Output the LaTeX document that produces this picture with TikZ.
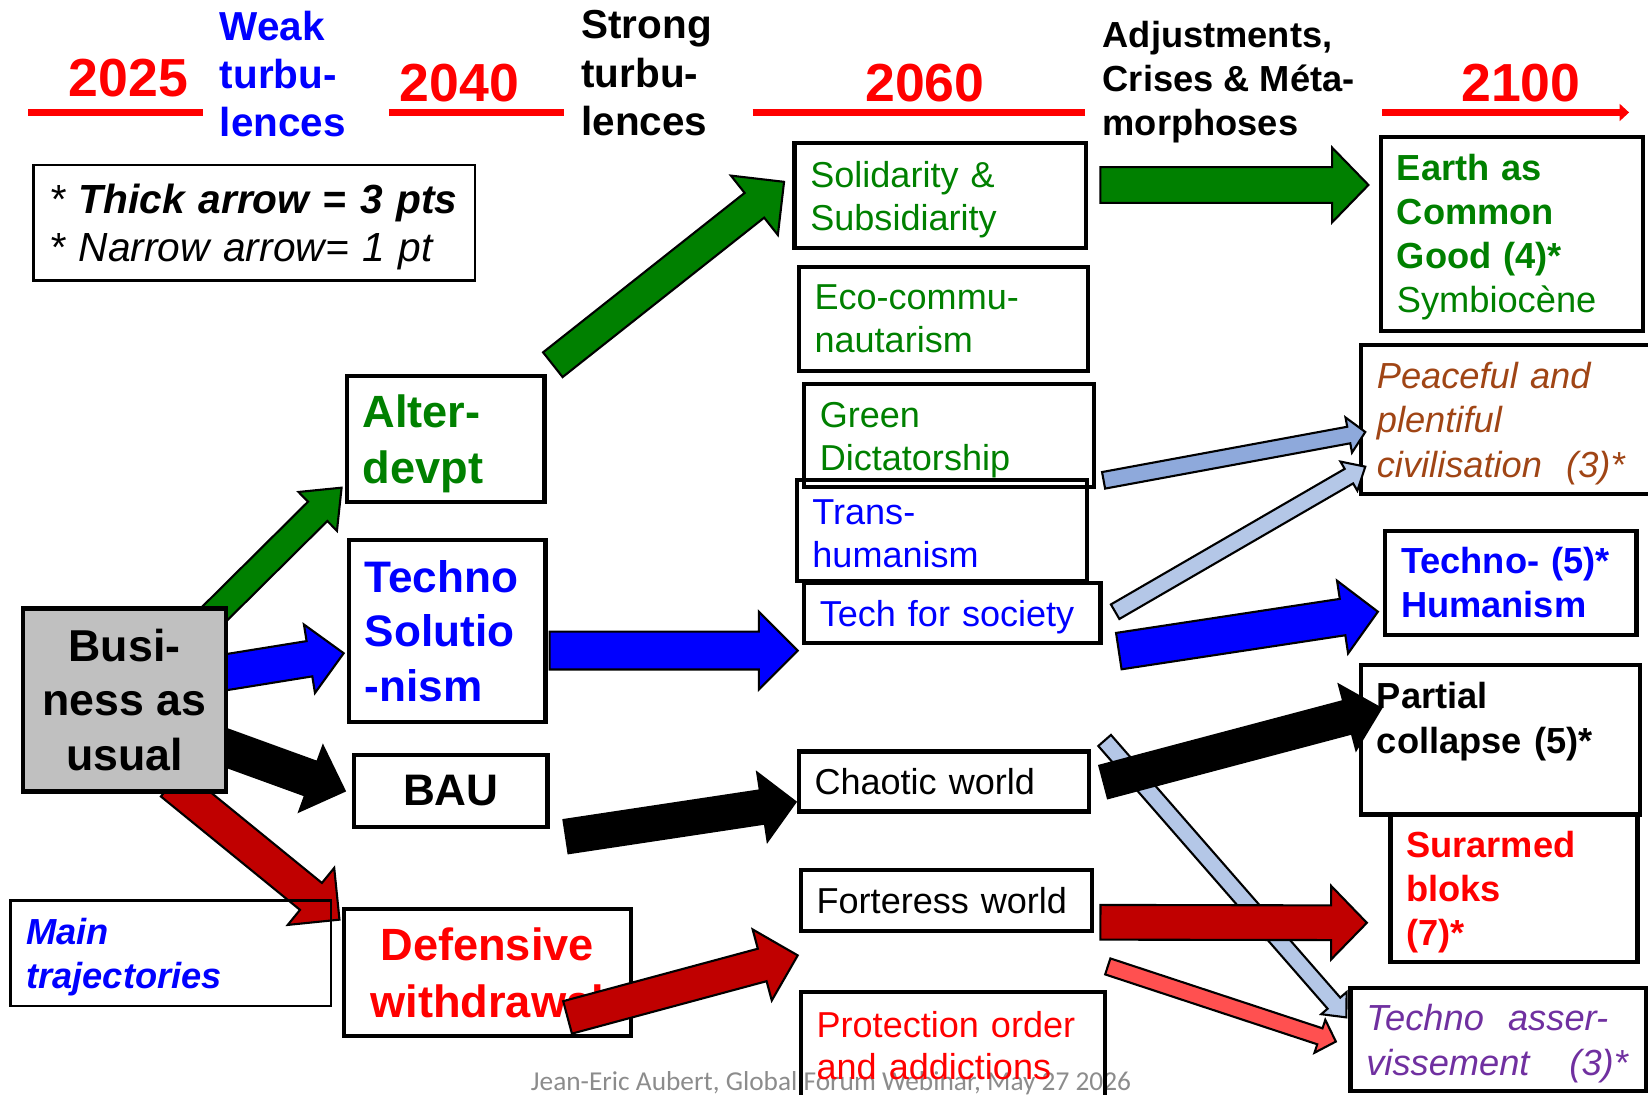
\documentclass[tikz,border=0pt]{standalone}
\usepackage{fontspec}
\setmainfont{Liberation Sans}
\newfontfamily\footfont{Carlito}
\usetikzlibrary{calc,backgrounds,arrows.meta}
\setlength{\parindent}{0pt}

\definecolor{tred}{HTML}{FF0000}
\definecolor{tblue}{HTML}{0000FF}
\definecolor{tgreen}{HTML}{008000}
\definecolor{dred}{HTML}{C00000}
\definecolor{lred}{HTML}{FF5050}
\definecolor{mblue}{HTML}{8EA9DB}
\definecolor{pblue}{HTML}{B4C7E7}
\definecolor{brn}{HTML}{A04515}
\definecolor{purp}{HTML}{7030A0}
\definecolor{bgray}{HTML}{C0C0C0}
\definecolor{ftgray}{HTML}{8C8C8C}

\newcommand{\fyear}{\fontsize{51}{60}\selectfont\bfseries}
\newcommand{\fhead}{\fontsize{38.5}{46}\selectfont\bfseries}
\newcommand{\fcris}{\fontsize{34.5}{42}\selectfont\bfseries}
\newcommand{\fleft}{\fontsize{43}{53}\selectfont\bfseries}
\newcommand{\fmid}{\fontsize{34.3}{41}\selectfont}
\newcommand{\fright}{\fontsize{34.5}{42}\selectfont}
\newcommand{\fnote}{\fontsize{38.7}{46}\selectfont\itshape}
\newcommand{\ffoot}{\footfont\fontsize{26}{30}\selectfont}

% block arrow: colour, tail, tip, half shaft, half head, head length
\newcommand{\flowarrow}[6]{%
  \coordinate (hb) at ($(#3)!#6pt!(#2)$);
  \draw[flowline, fill=#1] ($(#2)!#4pt!90:(#3)$) -- ($(hb)!#4pt!-90:(#2)$)
    -- ($(hb)!#5pt!-90:(#2)$) -- (#3) -- ($(hb)!#5pt!90:(#2)$)
    -- ($(hb)!#4pt!90:(#2)$) -- ($(#2)!#4pt!-90:(#3)$) -- cycle;
}

\begin{document}
\begin{tikzpicture}[x=1pt, y=-1pt,
    box/.style={draw, line width=4pt, anchor=north west, inner xsep=15pt, inner ysep=0pt, outer sep=0pt, align=left},
    txtdrop/.style={execute at begin node={\rule{0pt}{#1}}},
    flowline/.style={draw=black, line width=2pt, line join=miter},
    tline/.style={draw=tred, line width=6pt},
    yr/.style={anchor=base, text=tred, font=\fyear},
    hd/.style={anchor=north west, inner sep=0pt, align=left}]

\useasboundingbox (0,0) rectangle (1568,1041);
\clip (0,0) rectangle (1568,1041);

% time line
\draw[tline] (27,107) -- (193,107);
\draw[tline] (370,107) -- (537,107);
\draw[tline] (716,107) -- (1032,107);
\draw[tline, -{Triangle[length=9pt,width=16pt]}] (1315,107) -- (1550,107);

% years and periods
\node[yr] (y2025) at (122,92) {2025};
\node[yr] (y2040) at (437,97) {2040};
\node[yr] (y2060) at (880,97) {2060};
\node[yr] (y2100) at (1447,97) {2100};
\node[hd, text=tblue, font=\fhead] (weak) at (209,10) {Weak\\turbu-\\lences};
\node[hd, font=\fhead] (strong) at (553,10) {Strong\\turbu-\\lences};
\node[hd, font=\fcris] (adjust) at (1049,20) {Adjustments,\\Crises \& Méta-\\morphoses};

% footer
\node[anchor=base west, inner sep=0pt, text=ftgray, font=\ffoot] (foot) at (505,1038) {Jean-Eric Aubert, Global Forum Webinar, May 27 2026};

% legend
\node[box, txtdrop=36pt, line width=2.5pt, text width=390pt, minimum height=110pt, font=\fnote] (legend) at (32,157) {* \textbf{Thick arrow = 3 pts}\\{*} Narrow arrow= 1 pt};
\node[box, txtdrop=33pt, line width=2.5pt, text width=275pt, minimum height=100pt, text=tblue, font=\fright\bfseries\itshape] (mtraj) at (10,857) {Main\\trajectories};

% 2025 and 2040
\node[box, fill=bgray, align=center, minimum width=193pt, minimum height=174pt, font=\fontsize{42.5}{52}\selectfont\bfseries] (bau) at (22,579) {Busi-\\ness as\\usual};
\node[box, txtdrop=40pt, text width=158pt, minimum height=120pt, text=tgreen, font=\fleft] (alt) at (330,358) {Alter-\\devpt};
\node[box, text width=157pt, minimum height=173pt, text=tblue, font=\fontsize{42}{52}\selectfont\bfseries] (tsol) at (332,514) {Techno\\Solutio\\-nism};
\node[box, align=center, minimum width=184pt, minimum height=69pt, font=\fontsize{42}{52}\selectfont\bfseries] (bauB) at (337,718) {BAU};
\node[box, txtdrop=35.5pt, align=center, minimum width=273pt, minimum height=121pt, text=tred, font=\fontsize{43}{54}\selectfont\bfseries] (defw) at (327,865) {Defensive\\withdrawal};

% 2060
\node[box, txtdrop=32pt, text width=247pt, minimum height=100pt, text=tgreen, font=\fmid] (soli) at (756,136) {Solidarity \&\\Subsidiarity};
\node[box, text width=245pt, minimum height=99pt, text=tgreen, font=\fmid] (eco) at (760,254) {Eco-commu-\\nautarism};
\node[box, txtdrop=33pt, text width=246pt, minimum height=98pt, text=tgreen, font=\fmid] (gdict) at (765,365) {Green\\Dictatorship};
\node[box, txtdrop=29pt, text width=246pt, minimum height=96pt, text=tblue, font=\fmid] (trans) at (758,457) {Trans-\\humanism};
\node[box, txtdrop=33pt, text width=252pt, minimum height=57pt, text=tblue, font=\fmid] (tfs) at (765,555) {Tech for society};
\node[box, text width=246pt, minimum height=57pt, font=\fmid] (chao) at (760,715) {Chaotic world};
\node[box, text width=247pt, minimum height=58pt, font=\fmid] (fort) at (762,828) {Forteress world};
\node[box, text width=259pt, minimum height=102pt, text=tred, font=\fontsize{34.3}{40}\selectfont] (prot) at (762,944) {Protection order\\and addictions};

% 2100
\node[box, txtdrop=31pt, text width=219pt, minimum height=185pt, text=tgreen, font=\fontsize{34.5}{41.7}\selectfont] (earth) at (1314,130) {\textbf{Earth as}\\\textbf{Common}\\\textbf{Good (4)*}\\Symbiocène};
\node[box, txtdrop=33pt, text width=250pt, minimum height=142pt, text=brn, font=\fright\itshape] (peace) at (1295,328) {Peaceful and\\plentiful\\civilisation\ \ (3)*};
\node[box, text width=209pt, minimum height=99pt, text=tblue, font=\fright\bfseries] (thum) at (1318,505) {Techno- (5)*\\Humanism};
\node[box, text width=235pt, minimum height=142pt, font=\fright\bfseries] (pcol) at (1295,633) {Partial\\collapse (5)*\\\mbox{}};
\node[box, txtdrop=33pt, text width=205pt, minimum height=140pt, text=tred, font=\fright\bfseries] (surm) at (1323,775) {Surarmed\\bloks\\(7)*};
\node[box, txtdrop=33pt, text width=251pt, minimum height=98pt, text=purp, font=\fright\itshape] (tass) at (1285,940) {Techno\ \ asser-\\vissement\hspace{38pt}(3)*};

% tails and tips
\coordinate (bau-alt-s) at ($(bau.north east)+(-18,12)$);
\coordinate (bau-alt-e) at ($(alt.south west)+(-5,-14)$);
\coordinate (bau-tso-s) at ($(bau.east)+(-15,-24)$);
\coordinate (bau-tso-e) at ($(tsol.west)+(-5,21)$);
\coordinate (bau-bab-s) at ($(bau.east)+(-15,40)$);
\coordinate (bau-bab-e) at ($(bauB.west)+(-9,0)$);
\coordinate (bau-def-s) at ($(bau.south)+(45,-8)$);
\coordinate (bau-def-e) at ($(defw.north west)+(-4,10)$);
\coordinate (alt-sol-s) at ($(alt.north east)+(8,-11)$);
\coordinate (alt-sol-e) at ($(soli.west)+(-10,-13)$);
\coordinate (tso-tfs-s) at ($(tsol.east)+(4,18.5)$);
\coordinate (tso-tfs-e) at ($(tfs.west)+(-6,35.5)$);
\coordinate (bab-cha-s) at ($(bauB.south east)+(17.5,9)$);
\coordinate (bab-cha-e) at ($(chao.west)+(-3,19.5)$);
\coordinate (def-for-s) at ($(defw.south east)+(-60,-18)$);
\coordinate (def-for-e) at ($(fort.west)+(-3,52)$);
\coordinate (sol-ear-s) at ($(soli.east)+(14,-10)$);
\coordinate (sol-ear-e) at ($(earth.west)+(-12,-46.5)$);
\coordinate (gdi-pea-s) at ($(gdict.south east)+(9,-6)$);
\coordinate (gdi-pea-e) at ($(peace.west)+(4,12)$);
\coordinate (tfs-pea-s) at ($(tfs.east)+(14,-1.5)$);
\coordinate (tfs-pea-e) at ($(peace.west)+(4,45)$);
\coordinate (tfs-thu-s) at ($(tfs.south east)+(17.5,7.5)$);
\coordinate (tfs-thu-e) at ($(thum.west)+(-7,27.5)$);
\coordinate (cha-pco-s) at ($(chao.east)+(14,0.5)$);
\coordinate (cha-pco-e) at ($(pcol.west)+(19,-30)$);
\coordinate (cha-tas-s) at ($(chao.north east)+(15,-10.5)$);
\coordinate (cha-tas-e) at ($(tass.north west)+(-4,28)$);
\coordinate (for-sur-s) at ($(fort.east)+(8,20.5)$);
\coordinate (for-sur-e) at ($(surm.west)+(-22.5,33)$);
\coordinate (for-tas-s) at ($(fort.south east)+(15,33.5)$);
\coordinate (for-tas-e) at ($(tass.west)+(-14,2)$);

% arrows out of business as usual, behind its box
\begin{pgfonlayer}{background}
\flowarrow{tgreen}{bau-alt-s}{bau-alt-e}{13}{26}{32}
\flowarrow{tblue}{bau-tso-s}{bau-tso-e}{17}{33}{33}
\flowarrow{black}{bau-bab-s}{bau-bab-e}{17}{33}{34}
\flowarrow{dred}{bau-def-s}{bau-def-e}{16.5}{35}{35}
\end{pgfonlayer}

% 2040 -> 2060
\flowarrow{tgreen}{alt-sol-s}{alt-sol-e}{15}{36}{36}
\flowarrow{tblue}{tso-tfs-s}{tso-tfs-e}{18}{37}{37}
\flowarrow{black}{bab-cha-s}{bab-cha-e}{16}{33}{32}
\flowarrow{dred}{def-for-s}{def-for-e}{16}{35}{35}

% 2060 -> 2100
\flowarrow{tgreen}{sol-ear-s}{sol-ear-e}{17}{35.5}{34.5}
\flowarrow{mblue}{gdi-pea-s}{gdi-pea-e}{8}{17}{16}
\flowarrow{pblue}{tfs-pea-s}{tfs-pea-e}{8}{16}{18}
\flowarrow{tblue}{tfs-thu-s}{tfs-thu-e}{17.5}{35}{34}
\flowarrow{pblue}{cha-tas-s}{cha-tas-e}{8}{16}{18}
\flowarrow{black}{cha-pco-s}{cha-pco-e}{16}{32}{33}
\flowarrow{dred}{for-sur-s}{for-sur-e}{16.5}{35}{34}
\flowarrow{lred}{for-tas-s}{for-tas-e}{8}{16.5}{16}
\end{tikzpicture}
\end{document}
